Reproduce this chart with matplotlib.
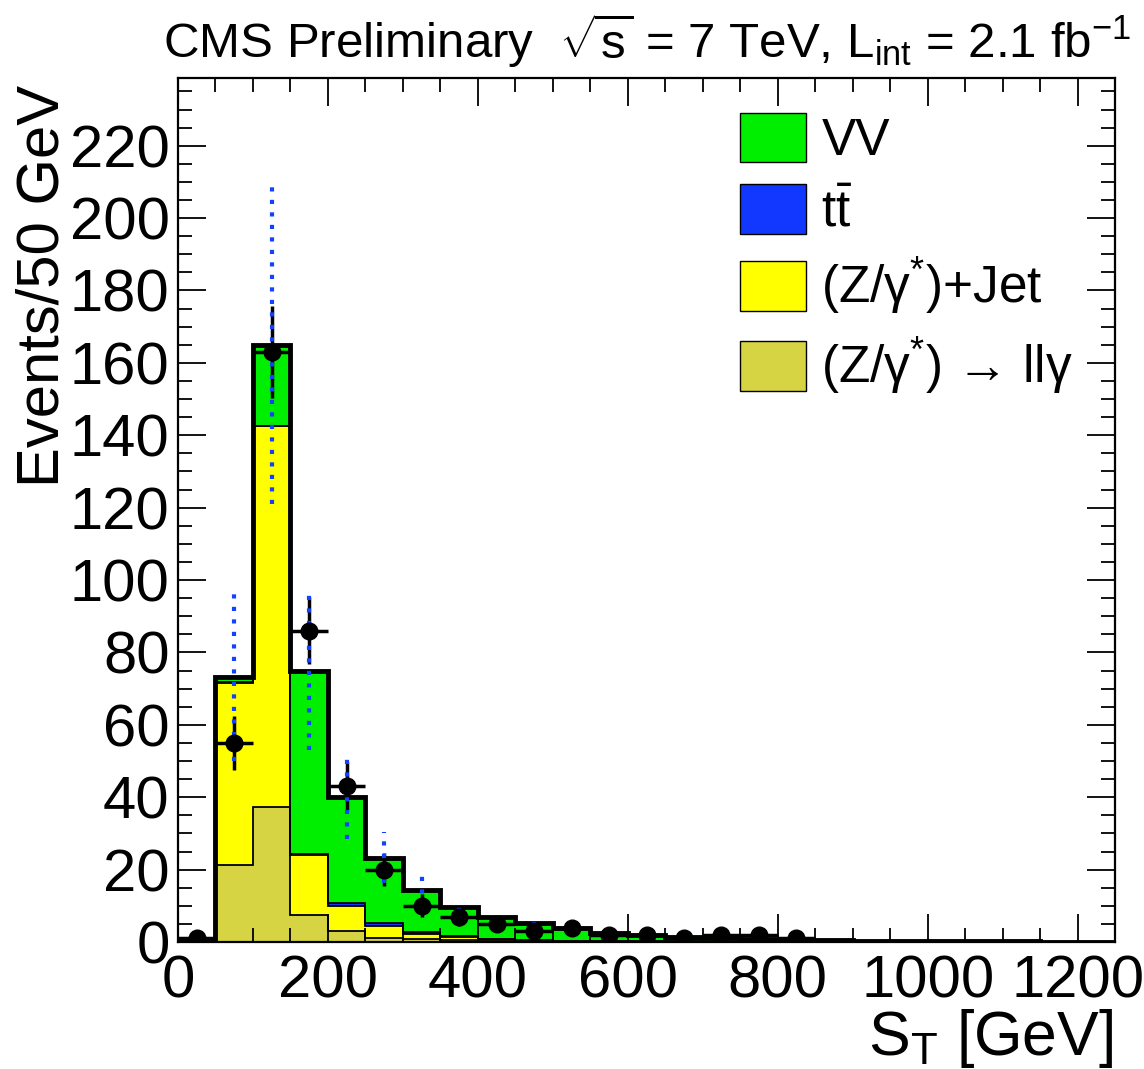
import numpy as np
import matplotlib
matplotlib.use('Agg')
import matplotlib.pyplot as plt
from matplotlib.patches import Patch
from matplotlib.ticker import MultipleLocator

plt.rcParams['font.family'] = ['Liberation Sans', 'DejaVu Sans']
plt.rcParams['mathtext.fontset'] = 'custom'
plt.rcParams['mathtext.rm'] = 'Liberation Sans'
plt.rcParams['mathtext.it'] = 'Liberation Sans'
plt.rcParams['mathtext.bf'] = 'Liberation Sans:bold'

# ---- data (S_T in 50 GeV bins, 0-1250) ----
edges = np.arange(0, 1251, 50)
centers = edges[:-1] + 25

# MC stack components, bottom -> top
llg = [0.1, 21.3, 37.4, 7.5, 3.0, 1.2, 0.8, 0.5, 0.3, 0.2, 0.1, 0.1, 0.05,
       0.05, 0.03, 0.02, 0.02, 0.01, 0.01, 0, 0, 0, 0, 0, 0]
zjet = [0.1, 50.3, 105.1, 16.5, 7.0, 3.2, 1.5, 0.8, 0.4, 0.2, 0.2, 0.1, 0.1,
        0.05, 0.05, 0.03, 0.02, 0.02, 0.01, 0.01, 0, 0, 0, 0, 0]
ttbar = [0.0, 0.1, 0.1, 0.3, 0.8, 0.8, 0.5, 0.3, 0.2, 0.2, 0.1, 0.1, 0.1,
         0.1, 0.05, 0.05, 0.05, 0.05, 0.05, 0.05, 0.04, 0.04, 0.03, 0.03, 0.02]
vv = [0.1, 1.4, 22.4, 50.7, 29.2, 18.1, 11.6, 8.0, 5.9, 4.6, 3.4, 2.1, 1.7,
      1.2, 0.9, 0.7, 0.5, 0.4, 0.3, 0.25, 0.2, 0.15, 0.12, 0.1, 0.08]
# MC uncertainty (blue dotted bars)
mc_err = [0, 23, 44, 22, 11.5, 7, 4.4, 1.3, 1.1, 0.9, 0.5, 0.4, 0.3,
          0.2, 0.2, 0.1, 0.1, 0, 0, 0, 0, 0, 0, 0, 0]

# observed data
data = [1, 55, 163, 86, 43, 20, 10, 7, 5, 3, 4, 2, 2, 1, 2, 2, 1,
        0, 0, 0, 0, 0, 0, 0, 0]
data_err = [1, 7.4, 12.8, 9.3, 6.6, 4.5, 3.2, 2.6, 2.2, 1.7, 2.0, 1.4, 1.4,
            1.0, 1.4, 1.4, 1.0, 0, 0, 0, 0, 0, 0, 0, 0]

labels = ['VV', r'$\mathrm{t\bar{t}}$', '(Z/γ$^{*}$)+Jet', '(Z/γ$^{*}$) → llγ']
colors = ['#00ee00', '#1238ff', '#ffff00', '#d7d444']

# ---- figure ----
fig = plt.figure(figsize=(11.44, 10.69), dpi=100)
ax = fig.add_axes([0.1556, 0.1188, 0.8191, 0.8082])

stack = [llg, zjet, ttbar, vv]
stack_cols = [colors[3], colors[2], colors[1], colors[0]]
bottom = np.zeros(len(centers))
for vals, c in zip(stack, stack_cols):
    top = bottom + np.array(vals)
    ax.stairs(top, edges, baseline=bottom, fill=True, color=c, zorder=1)
    ax.stairs(top, edges, baseline=None, color='k', lw=1.3, zorder=1.5)
    bottom = top
total = bottom
ax.stairs(total, edges, baseline=0, color='k', lw=3.5, zorder=1.8)

data = np.array(data, dtype=float)
data_err = np.array(data_err)
m = data > 0
ax.errorbar(centers[m], data[m], xerr=25, yerr=data_err[m], fmt='none',
            ecolor='k', elinewidth=2.5, capsize=0, zorder=3)
ax.vlines(centers, total - np.array(mc_err), total + np.array(mc_err),
          colors='#1440ff', linestyles=(0, (1, 2)), lw=3, zorder=4)
ax.plot(centers[m], data[m], 'o', color='k', ms=12, zorder=5)

ax.set_xlim(0, 1250)
ax.set_ylim(0, 238.7)
ax.xaxis.set_major_locator(MultipleLocator(200))
ax.xaxis.set_minor_locator(MultipleLocator(50))
ax.yaxis.set_major_locator(MultipleLocator(20))
ax.yaxis.set_minor_locator(MultipleLocator(5))
ax.tick_params(which='both', direction='in', top=True, right=True, width=1.3)
ax.tick_params(which='major', length=20, labelsize=43)
ax.tick_params(which='minor', length=10)
ax.tick_params(axis='x', pad=9)
ax.tick_params(axis='y', pad=6)
for s in ax.spines.values():
    s.set_linewidth(1.6)

handles = [Patch(facecolor=c, edgecolor='k', lw=1) for c in colors]
ax.legend(handles, labels, loc='upper left', bbox_to_anchor=(0.6, 0.96),
          frameon=False, fontsize=37, handlelength=1.28, handleheight=1.1,
          labelspacing=0.36, handletextpad=0.3, borderaxespad=0, borderpad=0)

fig.text(163 / 1144, 1 - 58 / 1069,
         r'CMS Preliminary  $\sqrt{s}$ = 7 TeV, L$_{\mathrm{int}}$ = 2.1 fb$^{-1}$',
         fontsize=35.5, ha='left', va='baseline')
fig.text(0.038, 1 - 85 / 1069, 'Events/50 GeV', rotation=90, fontsize=43,
         ha='center', va='top')
fig.text(1113 / 1144, 1 - 1055 / 1069, r'S$_{\mathrm{T}}$ [GeV]', fontsize=45,
         ha='right', va='baseline')

fig.savefig('out.png', dpi=100)
